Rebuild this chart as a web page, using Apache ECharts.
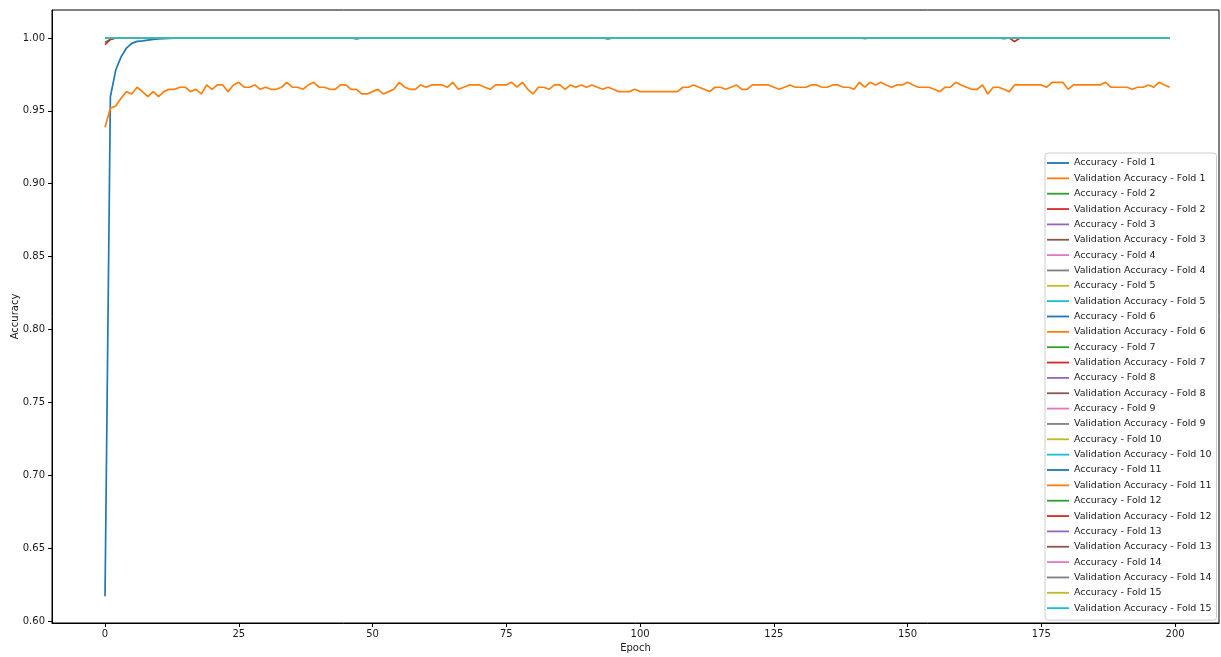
<!DOCTYPE html>
<html>
<head>
<meta charset="utf-8">
<script src="https://cdn.jsdelivr.net/npm/echarts@6/dist/echarts.min.js"></script>
<style>
  html, body { margin: 0; padding: 0; background: #fff; }
  #chart { width: 1221px; height: 657px; }
</style>
</head>
<body>
<div id="chart"></div>
<script>
// tick labels
const xTicks = [0, 25, 50, 75, 100, 125, 150, 175, 200]
const yTicks = [0.60, 0.65, 0.70, 0.75, 0.80, 0.85, 0.90, 0.95, 1.00]

// matplotlib tab10 cycle
const palette = ['#1f77b4', '#ff7f0e', '#2ca02c', '#d62728', '#9467bd',
  '#8c564b', '#e377c2', '#7f7f7f', '#bcbd22', '#17becf']

// [epoch, accuracy] points
const accFold1 = [[0, 0.617], [1, 0.9597], [2, 0.978], [3, 0.987], [4, 0.993],
  [5, 0.9963], [6, 0.9977], [7, 0.998], [8, 0.9985], [9, 0.999], [10, 0.9993],
  [11, 0.9995], [12, 0.9997], [13, 0.9999], [14, 1], [199, 1]]

// validation accuracy of fold 1, one value per epoch (0..199)
const valAccFold1 = [
  0.9387, 0.9518, 0.9533, 0.9586, 0.9632, 0.9616, 0.9662, 0.9632, 0.9597, 0.9632,
  0.9597, 0.9632, 0.9648, 0.9648, 0.9662, 0.9662, 0.9632, 0.9648, 0.9616, 0.9678,
  0.9648, 0.9678, 0.9678, 0.9632, 0.9678, 0.9696, 0.9662, 0.9662, 0.9678, 0.9648,
  0.9662, 0.9648, 0.9648, 0.9662, 0.9696, 0.9662, 0.9662, 0.9648, 0.9678, 0.9696,
  0.9662, 0.9662, 0.9648, 0.9648, 0.9678, 0.9678, 0.9648, 0.9648, 0.9616, 0.9616,
  0.9632, 0.9648, 0.9616, 0.9632, 0.9648, 0.9696, 0.9662, 0.9648, 0.9648, 0.9678,
  0.9662, 0.9678, 0.9678, 0.9678, 0.9662, 0.9696, 0.9648, 0.9662, 0.9678, 0.9678,
  0.9678, 0.9662, 0.9648, 0.9678, 0.9678, 0.9678, 0.9696, 0.9662, 0.9696, 0.9648,
  0.9616, 0.9662, 0.9662, 0.9648, 0.9678, 0.9678, 0.9648, 0.9678, 0.9662, 0.9678,
  0.9662, 0.9678, 0.9662, 0.9648, 0.9662, 0.9648, 0.9632, 0.9632, 0.9632, 0.9648,
  0.9632, 0.9632, 0.9632, 0.9632, 0.9632, 0.9632, 0.9632, 0.9632, 0.9662, 0.9662,
  0.9678, 0.9662, 0.9648, 0.9632, 0.9662, 0.9662, 0.9648, 0.9662, 0.9678, 0.9648,
  0.9648, 0.9678, 0.9678, 0.9678, 0.9678, 0.9662, 0.9648, 0.9662, 0.9678, 0.9662,
  0.9662, 0.9662, 0.9678, 0.9678, 0.9662, 0.9662, 0.9678, 0.9678, 0.9662, 0.9662,
  0.9648, 0.9696, 0.9662, 0.9696, 0.9678, 0.9696, 0.9678, 0.9662, 0.9678, 0.9678,
  0.9696, 0.9678, 0.9662, 0.9662, 0.9662, 0.9648, 0.9632, 0.9662, 0.9662, 0.9696,
  0.9678, 0.9662, 0.9648, 0.9648, 0.9678, 0.9616, 0.9662, 0.9662, 0.9648, 0.9632,
  0.9678, 0.9678, 0.9678, 0.9678, 0.9678, 0.9678, 0.9662, 0.9696, 0.9696, 0.9696,
  0.9648, 0.9678, 0.9678, 0.9678, 0.9678, 0.9678, 0.9678, 0.9696, 0.9662, 0.9662,
  0.9662, 0.9662, 0.9648, 0.9662, 0.9662, 0.9678, 0.9662, 0.9696, 0.9678, 0.9662
]

const accFold2 = [[0, 0.997], [1, 0.999], [2, 1], [199, 1]]
const valAccFold2 = [[0, 0.9954], [1, 0.999], [2, 1], [199, 1]]
const accFold6 = [[0, 1], [46, 1], [47, 0.9993], [48, 1], [199, 1]]
const accFold8 = [[0, 1], [141, 1], [142, 0.9995], [143, 1], [199, 1]]
const accFold11 = [[0, 1], [93, 1], [94, 0.9993], [95, 1], [167, 1], [168, 0.9995], [169, 1], [199, 1]]
const valAccFold12 = [[0, 1], [169, 1], [170, 0.9975], [171, 1], [199, 1]]
const steadyFold = [[0, 1], [199, 1]]

const accByFold = [accFold1, accFold2, steadyFold, steadyFold, steadyFold, accFold6, steadyFold,
  accFold8, steadyFold, steadyFold, accFold11, steadyFold, steadyFold, steadyFold, steadyFold]
const valAccByFold = [valAccFold1.map((v, i) => [i, v]), valAccFold2, steadyFold, steadyFold,
  steadyFold, steadyFold, steadyFold, steadyFold, steadyFold, steadyFold, steadyFold,
  valAccFold12, steadyFold, steadyFold, steadyFold]

let series = []
for (let f = 0; f < 15; f++) {
  series.push({ name: 'Accuracy - Fold ' + (f + 1), data: accByFold[f] })
  series.push({ name: 'Validation Accuracy - Fold ' + (f + 1), data: valAccByFold[f] })
}
series = series.map(function (s, i) {
  return {
    type: 'line',
    name: s.name,
    data: s.data,
    symbol: 'none',
    color: palette[i % 10],
    lineStyle: { width: 1.7, color: palette[i % 10] }
  }
})

const font = 'DejaVu Sans'
const myChart = echarts.init(document.getElementById('chart'))
myChart.setOption({
  animation: false,
  color: palette,
  textStyle: { fontFamily: font },
  grid: {
    left: 52,
    right: 2,
    top: 10,
    bottom: 34,
    outerBoundsMode: 'none',
    show: true,
    borderColor: '#000',
    borderWidth: 1
  },
  legend: {
    orient: 'vertical',
    left: 1045,
    top: 153,
    padding: [4, 5, 6, 2],
    itemWidth: 22,
    itemHeight: 12,
    itemGap: 3.35,
    icon: 'path://M0,0 L22,0 L22,1.8 L0,1.8 Z',
    backgroundColor: 'rgba(255,255,255,0.8)',
    borderColor: '#cccccc',
    borderWidth: 1,
    borderRadius: 3,
    textStyle: { fontFamily: font, fontSize: 9.5, color: '#1a1a1a', lineHeight: 12 }
  },
  xAxis: {
    type: 'value',
    min: -9.91,
    max: 208.2,
    name: 'Epoch',
    nameLocation: 'middle',
    nameGap: 20,
    nameMoveOverlap: false,
    nameTextStyle: { fontFamily: font, fontSize: 10, color: '#1a1a1a' },
    splitLine: { show: false },
    axisLine: { show: true, onZero: false, lineStyle: { color: '#000', width: 1 } },
    axisTick: { show: true, length: 4, lineStyle: { color: '#000' }, customValues: xTicks },
    axisLabel: { customValues: xTicks, margin: 6, fontSize: 10, color: '#1a1a1a', fontFamily: font }
  },
  yAxis: {
    type: 'value',
    min: 0.5986,
    max: 1.0192,
    name: 'Accuracy',
    nameLocation: 'middle',
    nameRotate: 90,
    nameGap: 32,
    nameMoveOverlap: false,
    nameTextStyle: { fontFamily: font, fontSize: 10, color: '#1a1a1a' },
    splitLine: { show: false },
    axisLine: { show: true, onZero: false, lineStyle: { color: '#000', width: 1 } },
    axisTick: { show: true, length: 4, lineStyle: { color: '#000' }, customValues: yTicks },
    axisLabel: {
      customValues: yTicks,
      margin: 7,
      fontSize: 10,
      color: '#1a1a1a',
      fontFamily: font,
      formatter: function (value) {
        return value.toFixed(2)
      }
    }
  },
  series: series
})
</script>
</body>
</html>
